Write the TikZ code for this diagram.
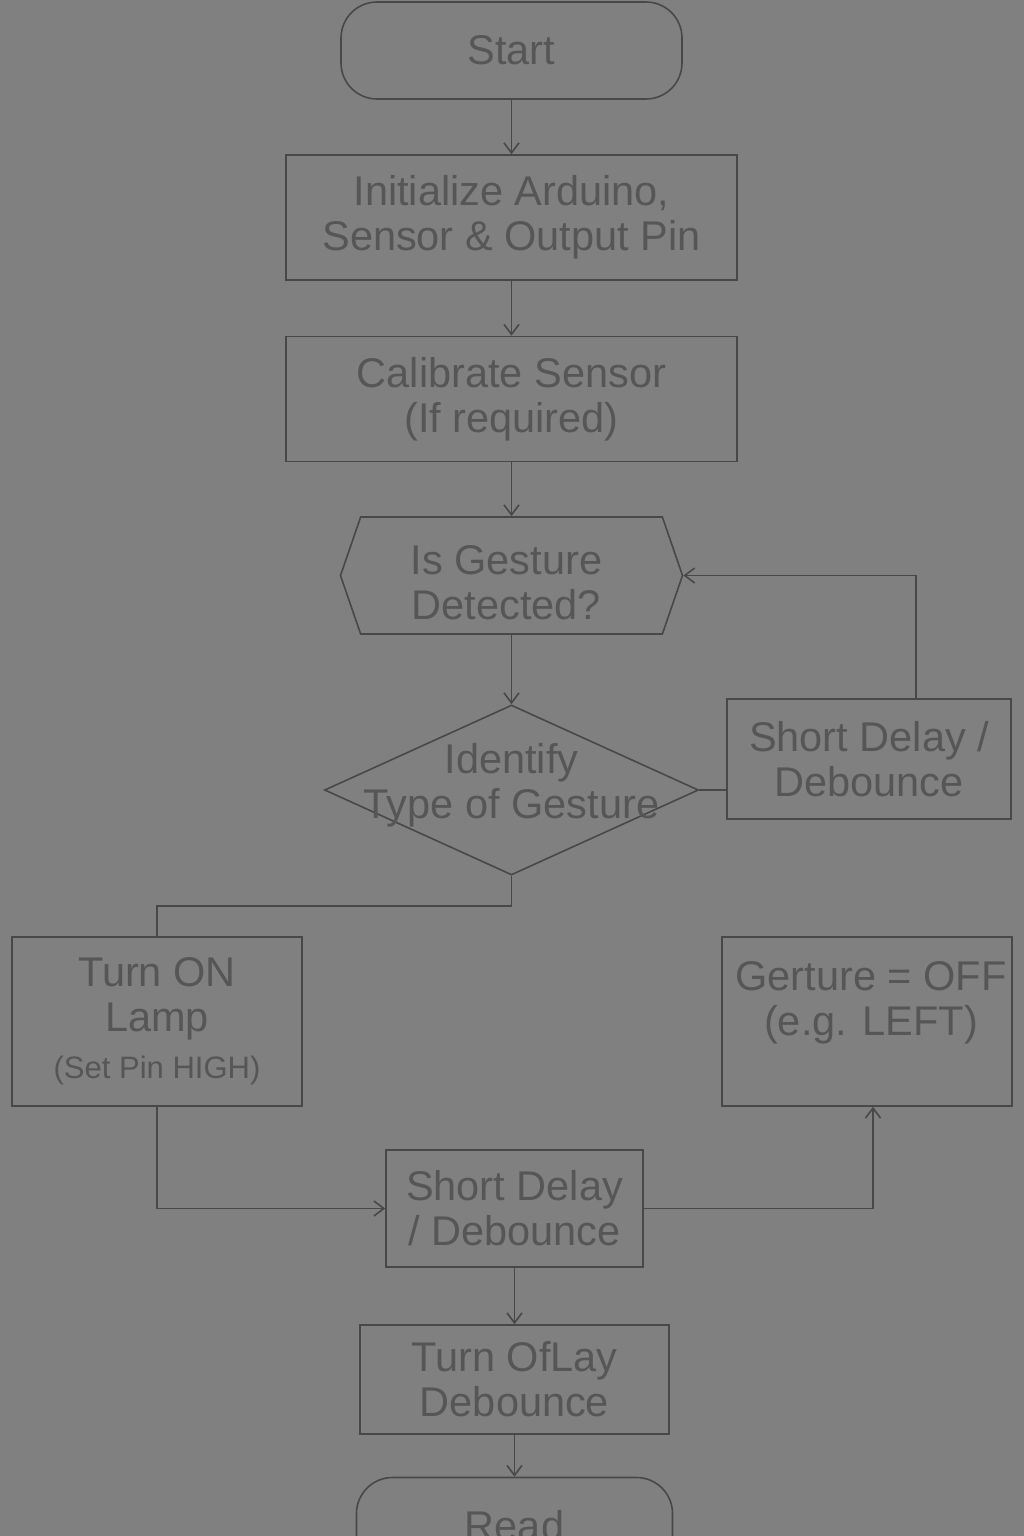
\documentclass[tikz,border=0pt]{standalone}
\usepackage{fontspec}
\setmainfont{Liberation Sans}
\usetikzlibrary{positioning,shapes.geometric,shapes.symbols,arrows.meta}
\definecolor{bggray}{RGB}{128,128,128}
\definecolor{ink}{RGB}{72,72,72}
\definecolor{txtgray}{RGB}{86,86,86}

\begin{document}
\begin{tikzpicture}[x=1pt, y=-1pt, color=ink, line width=1.6pt,
  font=\fontsize{41.5}{45}\selectfont,
  term/.style = {draw, rectangle, rounded corners=36pt, text=txtgray, minimum width=341pt, minimum height=97pt},
  proc/.style = {draw, rectangle, align=center, text=txtgray, inner sep=0pt},
  wide/.style = {proc, minimum width=451pt, minimum height=125pt},
  tall/.style = {proc, minimum width=290pt, minimum height=169pt},
  hexa/.style = {draw, signal, signal to=west and east, signal pointer angle=142, minimum width=342pt, minimum height=117pt, inner sep=0pt},
  decide/.style = {draw, diamond, inner sep=0pt, minimum width=374pt, minimum height=170pt},
  lbl/.style = {align=center, text=txtgray, font=\fontsize{41.5}{45}\selectfont},
  arr/.style = {-{Straight Barb[length=10pt,width=15pt]}}]
\path[use as bounding box, fill=bggray] (0,0) rectangle (1024,1536);

\node[term] (start) at (511.5,50.5) {Start};
\node[wide] (init) [below of=start, node distance=167pt] {Initialize Arduino,\\Sensor \& Output Pin};
\node[wide] (calib) [below of=init, node distance=181.5pt] {Calibrate Sensor\\(If required)};
\node[hexa] (detect) [below of=calib, node distance=176.5pt] {};
\node[lbl, xshift=-5pt, yshift=-7pt] at (detect) {Is Gesture\\Detected?};
\node[decide] (ident) [below of=detect, node distance=214.5pt] {};
\node[lbl, yshift=5pt] at (ident) {Identify\\Type of Gesture};
\node[proc, minimum width=284pt, minimum height=120pt] (delay1) at (869,759) {Short Delay /\\Debounce};
\node[tall] (lampon) at (157,1021.5) {Turn ON\\Lamp\\[2pt]{\fontsize{31}{36}\selectfont (Set Pin HIGH)}};
\node[tall] (gesoff) at (867,1021.5) {};
\node[lbl, xshift=4pt, yshift=19pt] at (gesoff) {Gerture = OFF\\(e.g. LEFT)};
\node[proc, minimum width=257pt, minimum height=117pt] (delay2) at (514.5,1208.5) {Short Delay\\/ Debounce};
\node[proc, minimum width=309pt, minimum height=109pt] (turnoff) [below of=delay2, node distance=171pt] {Turn OfLay\\Debounce};
\node[term, minimum width=316pt] (read) [below of=turnoff, node distance=146.5pt] {Read};

\draw[arr] (start) -- (init);
\draw[arr] (init) -- (calib);
\draw[arr] (calib) -- (detect);
\draw[arr] (detect) -- (ident);
\draw (ident.east) -- (ident.east -| delay1.west);
\draw[arr] ([xshift=47pt]delay1.north) |- (detect.east);
\draw (ident.south) -- ++(0,30) -| (lampon.north);
\draw[arr] (lampon.south) |- (delay2.west);
\draw[arr] (delay2.east) -| ([xshift=6pt]gesoff.south);
\draw[arr] (delay2) -- (turnoff);
\draw[arr] (turnoff) -- (read);
\end{tikzpicture}
\end{document}
